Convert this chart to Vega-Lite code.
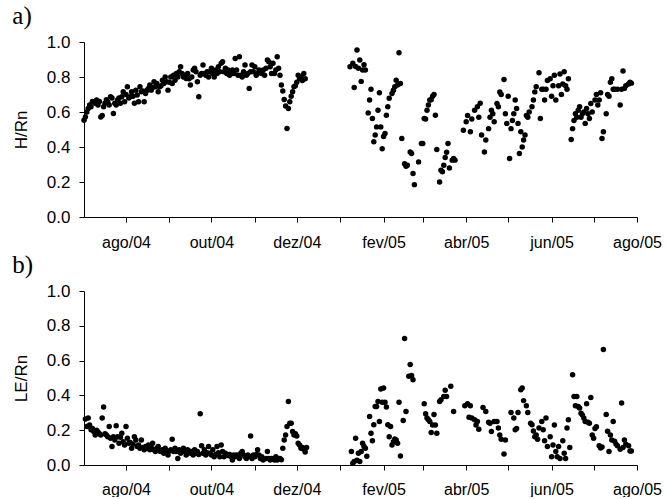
{
"$schema":"https://vega.github.io/schema/vega-lite/v6.json",
"background":"white",
"padding":{"left":12,"top":4,"right":0,"bottom":0},
"spacing":3,
"config":{
"view":{"stroke":null},
"axis":{"grid":false,"domainColor":"#000","tickColor":"#000","labelColor":"#000","titleColor":"#000","labelFont":"Liberation Sans","titleFont":"Liberation Sans","labelFontSize":17,"titleFontSize":17,"titleFontWeight":"normal","tickSize":5,"domainWidth":1,"tickWidth":1},
"axisX":{"labelFontSize":16},
"title":{"font":"Liberation Serif","fontSize":25,"fontWeight":"normal","anchor":"start","frame":"bounds","offset":0,"color":"#000"}
},
"datasets":{
"h":[
{"d":"2004-07-02","v":0.553},{"d":"2004-07-03","v":0.572},{"d":"2004-07-04","v":0.60},{"d":"2004-07-05","v":0.62},{"d":"2004-07-06","v":0.64},{"d":"2004-07-07","v":0.63},{"d":"2004-07-08","v":0.66},{"d":"2004-07-09","v":0.658},{"d":"2004-07-10","v":0.65},{"d":"2004-07-11","v":0.668},{"d":"2004-07-12","v":0.64},{"d":"2004-07-13","v":0.66},{"d":"2004-07-14","v":0.572},{"d":"2004-07-15","v":0.58},{"d":"2004-07-16","v":0.63},{"d":"2004-07-17","v":0.65},{"d":"2004-07-18","v":0.67},{"d":"2004-07-19","v":0.658},{"d":"2004-07-20","v":0.64},{"d":"2004-07-21","v":0.687},{"d":"2004-07-22","v":0.68},{"d":"2004-07-23","v":0.592},{"d":"2004-07-24","v":0.65},{"d":"2004-07-25","v":0.64},{"d":"2004-07-26","v":0.668},{"d":"2004-07-27","v":0.68},{"d":"2004-07-28","v":0.65},{"d":"2004-07-29","v":0.687},{"d":"2004-07-30","v":0.716},{"d":"2004-07-31","v":0.658},
{"d":"2004-08-01","v":0.70},{"d":"2004-08-02","v":0.744},{"d":"2004-08-03","v":0.68},{"d":"2004-08-04","v":0.687},{"d":"2004-08-05","v":0.716},{"d":"2004-08-06","v":0.69},{"d":"2004-08-07","v":0.65},{"d":"2004-08-08","v":0.725},{"d":"2004-08-09","v":0.697},{"d":"2004-08-10","v":0.658},{"d":"2004-08-11","v":0.744},{"d":"2004-08-12","v":0.716},{"d":"2004-08-13","v":0.72},{"d":"2004-08-14","v":0.658},{"d":"2004-08-15","v":0.706},{"d":"2004-08-16","v":0.725},{"d":"2004-08-17","v":0.735},{"d":"2004-08-18","v":0.754},{"d":"2004-08-19","v":0.725},{"d":"2004-08-20","v":0.74},{"d":"2004-08-21","v":0.773},{"d":"2004-08-22","v":0.744},{"d":"2004-08-23","v":0.763},{"d":"2004-08-24","v":0.716},{"d":"2004-08-25","v":0.744},{"d":"2004-08-26","v":0.75},{"d":"2004-08-27","v":0.782},{"d":"2004-08-28","v":0.763},{"d":"2004-08-29","v":0.80},{"d":"2004-08-30","v":0.773},{"d":"2004-08-31","v":0.725},
{"d":"2004-09-01","v":0.77},{"d":"2004-09-02","v":0.80},{"d":"2004-09-03","v":0.763},{"d":"2004-09-04","v":0.81},{"d":"2004-09-05","v":0.782},{"d":"2004-09-06","v":0.82},{"d":"2004-09-07","v":0.80},{"d":"2004-09-08","v":0.83},{"d":"2004-09-09","v":0.859},{"d":"2004-09-10","v":0.82},{"d":"2004-09-11","v":0.80},{"d":"2004-09-12","v":0.81},{"d":"2004-09-13","v":0.792},{"d":"2004-09-14","v":0.82},{"d":"2004-09-15","v":0.79},{"d":"2004-09-16","v":0.754},{"d":"2004-09-17","v":0.80},{"d":"2004-09-18","v":0.84},{"d":"2004-09-19","v":0.85},{"d":"2004-09-20","v":0.83},{"d":"2004-09-21","v":0.773},{"d":"2004-09-22","v":0.687},{"d":"2004-09-23","v":0.81},{"d":"2004-09-24","v":0.82},{"d":"2004-09-25","v":0.868},{"d":"2004-09-26","v":0.82},{"d":"2004-09-27","v":0.81},{"d":"2004-09-28","v":0.83},{"d":"2004-09-29","v":0.80},{"d":"2004-09-30","v":0.83},
{"d":"2004-10-01","v":0.85},{"d":"2004-10-02","v":0.82},{"d":"2004-10-03","v":0.80},{"d":"2004-10-04","v":0.84},{"d":"2004-10-05","v":0.82},{"d":"2004-10-06","v":0.859},{"d":"2004-10-07","v":0.83},{"d":"2004-10-08","v":0.878},{"d":"2004-10-09","v":0.887},{"d":"2004-10-10","v":0.83},{"d":"2004-10-11","v":0.85},{"d":"2004-10-12","v":0.82},{"d":"2004-10-13","v":0.84},{"d":"2004-10-14","v":0.81},{"d":"2004-10-15","v":0.82},{"d":"2004-10-16","v":0.84},{"d":"2004-10-17","v":0.82},{"d":"2004-10-18","v":0.906},{"d":"2004-10-19","v":0.84},{"d":"2004-10-20","v":0.81},{"d":"2004-10-21","v":0.916},{"d":"2004-10-22","v":0.81},{"d":"2004-10-23","v":0.80},{"d":"2004-10-24","v":0.83},{"d":"2004-10-25","v":0.868},{"d":"2004-10-26","v":0.81},{"d":"2004-10-27","v":0.82},{"d":"2004-10-28","v":0.735},{"d":"2004-10-29","v":0.83},{"d":"2004-10-30","v":0.868},{"d":"2004-10-31","v":0.83},
{"d":"2004-11-01","v":0.859},{"d":"2004-11-02","v":0.81},{"d":"2004-11-03","v":0.82},{"d":"2004-11-04","v":0.84},{"d":"2004-11-05","v":0.83},{"d":"2004-11-06","v":0.82},{"d":"2004-11-07","v":0.84},{"d":"2004-11-08","v":0.81},{"d":"2004-11-09","v":0.85},{"d":"2004-11-10","v":0.897},{"d":"2004-11-11","v":0.887},{"d":"2004-11-12","v":0.859},{"d":"2004-11-13","v":0.82},{"d":"2004-11-14","v":0.878},{"d":"2004-11-15","v":0.82},{"d":"2004-11-16","v":0.84},{"d":"2004-11-17","v":0.916},{"d":"2004-11-18","v":0.85},{"d":"2004-11-19","v":0.81},{"d":"2004-11-20","v":0.754},{"d":"2004-11-21","v":0.72},{"d":"2004-11-22","v":0.672},{"d":"2004-11-23","v":0.634},{"d":"2004-11-24","v":0.506},{"d":"2004-11-25","v":0.62},{"d":"2004-11-26","v":0.658},{"d":"2004-11-27","v":0.69},{"d":"2004-11-28","v":0.716},{"d":"2004-11-29","v":0.744},{"d":"2004-11-30","v":0.75},
{"d":"2004-12-01","v":0.77},{"d":"2004-12-02","v":0.81},{"d":"2004-12-03","v":0.79},{"d":"2004-12-04","v":0.80},{"d":"2004-12-05","v":0.78},{"d":"2004-12-06","v":0.82},{"d":"2004-12-07","v":0.79},
{"d":"2005-01-08","v":0.859},{"d":"2005-01-10","v":0.878},{"d":"2005-01-11","v":0.74},{"d":"2005-01-12","v":0.86},{"d":"2005-01-13","v":0.954},{"d":"2005-01-14","v":0.85},{"d":"2005-01-15","v":0.897},{"d":"2005-01-16","v":0.775},{"d":"2005-01-17","v":0.84},{"d":"2005-01-18","v":0.87},{"d":"2005-01-19","v":0.84},{"d":"2005-01-21","v":0.595},{"d":"2005-01-22","v":0.668},{"d":"2005-01-23","v":0.73},{"d":"2005-01-24","v":0.563},{"d":"2005-01-25","v":0.43},{"d":"2005-01-26","v":0.468},{"d":"2005-01-27","v":0.515},{"d":"2005-01-28","v":0.61},{"d":"2005-01-29","v":0.71},{"d":"2005-01-30","v":0.515},{"d":"2005-01-31","v":0.39},
{"d":"2005-02-01","v":0.46},{"d":"2005-02-02","v":0.477},{"d":"2005-02-03","v":0.582},{"d":"2005-02-04","v":0.63},{"d":"2005-02-05","v":0.678},{"d":"2005-02-07","v":0.706},{"d":"2005-02-08","v":0.725},{"d":"2005-02-09","v":0.744},{"d":"2005-02-10","v":0.782},{"d":"2005-02-11","v":0.754},{"d":"2005-02-12","v":0.939},{"d":"2005-02-13","v":0.763},{"d":"2005-02-14","v":0.449},{"d":"2005-02-16","v":0.305},{"d":"2005-02-17","v":0.29},{"d":"2005-02-18","v":0.296},{"d":"2005-02-20","v":0.372},{"d":"2005-02-21","v":0.363},{"d":"2005-02-22","v":0.248},{"d":"2005-02-23","v":0.185},{"d":"2005-02-26","v":0.315},{"d":"2005-02-28","v":0.42},
{"d":"2005-03-01","v":0.42},{"d":"2005-03-02","v":0.563},{"d":"2005-03-03","v":0.56},{"d":"2005-03-04","v":0.61},{"d":"2005-03-05","v":0.64},{"d":"2005-03-06","v":0.668},{"d":"2005-03-07","v":0.67},{"d":"2005-03-08","v":0.69},{"d":"2005-03-09","v":0.70},{"d":"2005-03-10","v":0.582},{"d":"2005-03-11","v":0.386},{"d":"2005-03-13","v":0.2},{"d":"2005-03-14","v":0.267},{"d":"2005-03-15","v":0.258},{"d":"2005-03-16","v":0.296},{"d":"2005-03-17","v":0.34},{"d":"2005-03-18","v":0.37},{"d":"2005-03-19","v":0.42},{"d":"2005-03-20","v":0.28},{"d":"2005-03-22","v":0.325},{"d":"2005-03-23","v":0.334},{"d":"2005-03-24","v":0.325},{"d":"2005-03-30","v":0.496},
{"d":"2005-04-01","v":0.544},{"d":"2005-04-02","v":0.58},{"d":"2005-04-04","v":0.487},{"d":"2005-04-05","v":0.56},{"d":"2005-04-07","v":0.61},{"d":"2005-04-09","v":0.63},{"d":"2005-04-10","v":0.57},{"d":"2005-04-11","v":0.65},{"d":"2005-04-12","v":0.468},{"d":"2005-04-14","v":0.372},{"d":"2005-04-15","v":0.44},{"d":"2005-04-17","v":0.505},{"d":"2005-04-18","v":0.57},{"d":"2005-04-19","v":0.61},{"d":"2005-04-20","v":0.59},{"d":"2005-04-21","v":0.544},{"d":"2005-04-23","v":0.648},{"d":"2005-04-24","v":0.63},{"d":"2005-04-25","v":0.715},{"d":"2005-04-26","v":0.70},{"d":"2005-04-28","v":0.786},{"d":"2005-04-29","v":0.59},{"d":"2005-04-30","v":0.535},
{"d":"2005-05-01","v":0.69},{"d":"2005-05-02","v":0.334},{"d":"2005-05-03","v":0.505},{"d":"2005-05-04","v":0.552},{"d":"2005-05-05","v":0.59},{"d":"2005-05-06","v":0.668},{"d":"2005-05-07","v":0.62},{"d":"2005-05-08","v":0.535},{"d":"2005-05-09","v":0.363},{"d":"2005-05-10","v":0.487},{"d":"2005-05-11","v":0.40},{"d":"2005-05-12","v":0.44},{"d":"2005-05-13","v":0.468},{"d":"2005-05-14","v":0.58},{"d":"2005-05-15","v":0.57},{"d":"2005-05-16","v":0.60},{"d":"2005-05-18","v":0.63},{"d":"2005-05-19","v":0.668},{"d":"2005-05-20","v":0.715},{"d":"2005-05-21","v":0.745},{"d":"2005-05-23","v":0.824},{"d":"2005-05-24","v":0.563},{"d":"2005-05-25","v":0.73},{"d":"2005-05-26","v":0.73},{"d":"2005-05-27","v":0.668},{"d":"2005-05-28","v":0.73},{"d":"2005-05-29","v":0.78},{"d":"2005-05-31","v":0.79},
{"d":"2005-06-01","v":0.69},{"d":"2005-06-02","v":0.75},{"d":"2005-06-03","v":0.81},{"d":"2005-06-04","v":0.668},{"d":"2005-06-06","v":0.75},{"d":"2005-06-07","v":0.817},{"d":"2005-06-08","v":0.70},{"d":"2005-06-09","v":0.76},{"d":"2005-06-10","v":0.83},{"d":"2005-06-11","v":0.75},{"d":"2005-06-12","v":0.73},{"d":"2005-06-13","v":0.79},{"d":"2005-06-15","v":0.443},{"d":"2005-06-16","v":0.505},{"d":"2005-06-17","v":0.552},{"d":"2005-06-18","v":0.59},{"d":"2005-06-19","v":0.57},{"d":"2005-06-20","v":0.61},{"d":"2005-06-21","v":0.63},{"d":"2005-06-22","v":0.57},{"d":"2005-06-23","v":0.59},{"d":"2005-06-24","v":0.60},{"d":"2005-06-25","v":0.535},{"d":"2005-06-26","v":0.62},{"d":"2005-06-27","v":0.59},{"d":"2005-06-28","v":0.563},{"d":"2005-06-29","v":0.648},{"d":"2005-06-30","v":0.60},
{"d":"2005-07-02","v":0.668},{"d":"2005-07-03","v":0.70},{"d":"2005-07-04","v":0.64},{"d":"2005-07-05","v":0.668},{"d":"2005-07-06","v":0.71},{"d":"2005-07-07","v":0.449},{"d":"2005-07-08","v":0.487},{"d":"2005-07-10","v":0.59},{"d":"2005-07-11","v":0.70},{"d":"2005-07-12","v":0.69},{"d":"2005-07-13","v":0.77},{"d":"2005-07-14","v":0.79},{"d":"2005-07-15","v":0.73},{"d":"2005-07-16","v":0.73},{"d":"2005-07-18","v":0.73},{"d":"2005-07-20","v":0.64},{"d":"2005-07-21","v":0.73},{"d":"2005-07-22","v":0.834},{"d":"2005-07-23","v":0.735},{"d":"2005-07-24","v":0.75},{"d":"2005-07-26","v":0.76},{"d":"2005-07-27","v":0.77},{"d":"2005-07-28","v":0.765}
],
"le":[
{"d":"2004-07-03","v":0.264},{"d":"2004-07-04","v":0.221},{"d":"2004-07-05","v":0.27},{"d":"2004-07-06","v":0.23},{"d":"2004-07-07","v":0.202},{"d":"2004-07-08","v":0.21},{"d":"2004-07-09","v":0.192},{"d":"2004-07-10","v":0.173},{"d":"2004-07-11","v":0.20},{"d":"2004-07-12","v":0.19},{"d":"2004-07-13","v":0.18},{"d":"2004-07-14","v":0.173},{"d":"2004-07-15","v":0.27},{"d":"2004-07-16","v":0.333},{"d":"2004-07-17","v":0.18},{"d":"2004-07-18","v":0.173},{"d":"2004-07-19","v":0.163},{"d":"2004-07-20","v":0.221},{"d":"2004-07-21","v":0.154},{"d":"2004-07-22","v":0.106},{"d":"2004-07-23","v":0.163},{"d":"2004-07-24","v":0.144},{"d":"2004-07-25","v":0.225},{"d":"2004-07-26","v":0.163},{"d":"2004-07-27","v":0.125},{"d":"2004-07-28","v":0.16},{"d":"2004-07-29","v":0.182},{"d":"2004-07-30","v":0.134},{"d":"2004-07-31","v":0.115},
{"d":"2004-08-01","v":0.221},{"d":"2004-08-02","v":0.154},{"d":"2004-08-03","v":0.125},{"d":"2004-08-04","v":0.13},{"d":"2004-08-05","v":0.096},{"d":"2004-08-06","v":0.12},{"d":"2004-08-07","v":0.163},{"d":"2004-08-08","v":0.144},{"d":"2004-08-09","v":0.106},{"d":"2004-08-10","v":0.115},{"d":"2004-08-11","v":0.096},{"d":"2004-08-12","v":0.144},{"d":"2004-08-13","v":0.10},{"d":"2004-08-14","v":0.087},{"d":"2004-08-15","v":0.106},{"d":"2004-08-16","v":0.096},{"d":"2004-08-17","v":0.115},{"d":"2004-08-18","v":0.087},{"d":"2004-08-19","v":0.10},{"d":"2004-08-20","v":0.125},{"d":"2004-08-21","v":0.087},{"d":"2004-08-22","v":0.077},{"d":"2004-08-23","v":0.096},{"d":"2004-08-24","v":0.106},{"d":"2004-08-25","v":0.08},{"d":"2004-08-26","v":0.077},{"d":"2004-08-27","v":0.087},{"d":"2004-08-28","v":0.067},{"d":"2004-08-29","v":0.096},{"d":"2004-08-30","v":0.077},{"d":"2004-08-31","v":0.058},
{"d":"2004-09-01","v":0.08},{"d":"2004-09-02","v":0.087},{"d":"2004-09-03","v":0.148},{"d":"2004-09-04","v":0.077},{"d":"2004-09-05","v":0.096},{"d":"2004-09-06","v":0.077},{"d":"2004-09-07","v":0.038},{"d":"2004-09-08","v":0.087},{"d":"2004-09-09","v":0.067},{"d":"2004-09-10","v":0.08},{"d":"2004-09-11","v":0.096},{"d":"2004-09-12","v":0.077},{"d":"2004-09-13","v":0.058},{"d":"2004-09-14","v":0.087},{"d":"2004-09-15","v":0.08},{"d":"2004-09-16","v":0.067},{"d":"2004-09-17","v":0.077},{"d":"2004-09-18","v":0.058},{"d":"2004-09-19","v":0.087},{"d":"2004-09-20","v":0.067},{"d":"2004-09-21","v":0.077},{"d":"2004-09-22","v":0.06},{"d":"2004-09-23","v":0.294},{"d":"2004-09-24","v":0.11},{"d":"2004-09-25","v":0.067},{"d":"2004-09-26","v":0.087},{"d":"2004-09-27","v":0.058},{"d":"2004-09-28","v":0.07},{"d":"2004-09-29","v":0.106},{"d":"2004-09-30","v":0.067},
{"d":"2004-10-01","v":0.058},{"d":"2004-10-02","v":0.087},{"d":"2004-10-03","v":0.048},{"d":"2004-10-04","v":0.06},{"d":"2004-10-05","v":0.106},{"d":"2004-10-06","v":0.07},{"d":"2004-10-07","v":0.048},{"d":"2004-10-08","v":0.115},{"d":"2004-10-09","v":0.077},{"d":"2004-10-10","v":0.048},{"d":"2004-10-11","v":0.067},{"d":"2004-10-12","v":0.058},{"d":"2004-10-13","v":0.055},{"d":"2004-10-14","v":0.06},{"d":"2004-10-15","v":0.048},{"d":"2004-10-16","v":0.029},{"d":"2004-10-17","v":0.058},{"d":"2004-10-18","v":0.048},{"d":"2004-10-19","v":0.058},{"d":"2004-10-20","v":0.05},{"d":"2004-10-21","v":0.038},{"d":"2004-10-22","v":0.067},{"d":"2004-10-23","v":0.077},{"d":"2004-10-24","v":0.058},{"d":"2004-10-25","v":0.048},{"d":"2004-10-26","v":0.038},{"d":"2004-10-27","v":0.058},{"d":"2004-10-28","v":0.05},{"d":"2004-10-29","v":0.167},{"d":"2004-10-30","v":0.038},{"d":"2004-10-31","v":0.058},
{"d":"2004-11-01","v":0.048},{"d":"2004-11-02","v":0.06},{"d":"2004-11-03","v":0.087},{"d":"2004-11-04","v":0.058},{"d":"2004-11-05","v":0.038},{"d":"2004-11-06","v":0.048},{"d":"2004-11-07","v":0.029},{"d":"2004-11-09","v":0.038},{"d":"2004-11-10","v":0.077},{"d":"2004-11-11","v":0.038},{"d":"2004-11-12","v":0.029},{"d":"2004-11-13","v":0.038},{"d":"2004-11-15","v":0.029},{"d":"2004-11-16","v":0.048},{"d":"2004-11-17","v":0.029},{"d":"2004-11-18","v":0.038},{"d":"2004-11-19","v":0.038},{"d":"2004-11-20","v":0.03},{"d":"2004-11-21","v":0.096},{"d":"2004-11-22","v":0.144},{"d":"2004-11-23","v":0.173},{"d":"2004-11-24","v":0.221},{"d":"2004-11-25","v":0.365},{"d":"2004-11-26","v":0.24},{"d":"2004-11-27","v":0.24},{"d":"2004-11-28","v":0.192},{"d":"2004-11-29","v":0.173},{"d":"2004-11-30","v":0.18},
{"d":"2004-12-01","v":0.167},{"d":"2004-12-02","v":0.125},{"d":"2004-12-03","v":0.115},{"d":"2004-12-04","v":0.096},{"d":"2004-12-05","v":0.10},{"d":"2004-12-06","v":0.09},{"d":"2004-12-07","v":0.075},{"d":"2004-12-08","v":0.10},
{"d":"2005-01-09","v":0.077},{"d":"2005-01-10","v":0.01},{"d":"2005-01-11","v":0.02},{"d":"2005-01-12","v":0.154},{"d":"2005-01-13","v":0.027},{"d":"2005-01-14","v":0.067},{"d":"2005-01-15","v":0.02},{"d":"2005-01-16","v":0.077},{"d":"2005-01-17","v":0.125},{"d":"2005-01-18","v":0.106},{"d":"2005-01-19","v":0.096},{"d":"2005-01-20","v":0.05},{"d":"2005-01-22","v":0.279},{"d":"2005-01-23","v":0.183},{"d":"2005-01-24","v":0.14},{"d":"2005-01-25","v":0.231},{"d":"2005-01-26","v":0.336},{"d":"2005-01-27","v":0.336},{"d":"2005-01-28","v":0.365},{"d":"2005-01-29","v":0.25},{"d":"2005-01-30","v":0.437},{"d":"2005-01-31","v":0.36},
{"d":"2005-02-01","v":0.442},{"d":"2005-02-02","v":0.36},{"d":"2005-02-03","v":0.333},{"d":"2005-02-04","v":0.231},{"d":"2005-02-05","v":0.163},{"d":"2005-02-06","v":0.221},{"d":"2005-02-07","v":0.115},{"d":"2005-02-08","v":0.134},{"d":"2005-02-09","v":0.15},{"d":"2005-02-10","v":0.144},{"d":"2005-02-11","v":0.125},{"d":"2005-02-12","v":0.36},{"d":"2005-02-13","v":0.052},{"d":"2005-02-15","v":0.256},{"d":"2005-02-16","v":0.727},{"d":"2005-02-17","v":0.308},{"d":"2005-02-19","v":0.51},{"d":"2005-02-20","v":0.577},{"d":"2005-02-21","v":0.514},{"d":"2005-02-22","v":0.49},
{"d":"2005-03-02","v":0.352},{"d":"2005-03-03","v":0.294},{"d":"2005-03-04","v":0.27},{"d":"2005-03-05","v":0.26},{"d":"2005-03-06","v":0.25},{"d":"2005-03-07","v":0.187},{"d":"2005-03-08","v":0.23},{"d":"2005-03-09","v":0.29},{"d":"2005-03-10","v":0.23},{"d":"2005-03-11","v":0.183},{"d":"2005-03-13","v":0.365},{"d":"2005-03-14","v":0.375},{"d":"2005-03-16","v":0.394},{"d":"2005-03-17","v":0.429},{"d":"2005-03-18","v":0.394},{"d":"2005-03-21","v":0.452},{"d":"2005-03-23","v":0.308},{"d":"2005-03-31","v":0.34},
{"d":"2005-04-02","v":0.352},{"d":"2005-04-03","v":0.275},{"d":"2005-04-04","v":0.34},{"d":"2005-04-05","v":0.27},{"d":"2005-04-07","v":0.26},{"d":"2005-04-08","v":0.23},{"d":"2005-04-09","v":0.25},{"d":"2005-04-10","v":0.206},{"d":"2005-04-13","v":0.33},{"d":"2005-04-15","v":0.308},{"d":"2005-04-17","v":0.246},{"d":"2005-04-18","v":0.24},{"d":"2005-04-19","v":0.192},{"d":"2005-04-21","v":0.25},{"d":"2005-04-23","v":0.25},{"d":"2005-04-24","v":0.212},{"d":"2005-04-25","v":0.173},{"d":"2005-04-26","v":0.148},{"d":"2005-04-28","v":0.063},{"d":"2005-04-29","v":0.144},
{"d":"2005-05-03","v":0.302},{"d":"2005-05-05","v":0.27},{"d":"2005-05-06","v":0.202},{"d":"2005-05-07","v":0.21},{"d":"2005-05-08","v":0.302},{"d":"2005-05-10","v":0.433},{"d":"2005-05-11","v":0.442},{"d":"2005-05-12","v":0.37},{"d":"2005-05-14","v":0.34},{"d":"2005-05-15","v":0.302},{"d":"2005-05-17","v":0.24},{"d":"2005-05-18","v":0.231},{"d":"2005-05-19","v":0.196},{"d":"2005-05-20","v":0.163},{"d":"2005-05-21","v":0.173},{"d":"2005-05-22","v":0.148},{"d":"2005-05-23","v":0.212},{"d":"2005-05-25","v":0.25},{"d":"2005-05-26","v":0.202},{"d":"2005-05-27","v":0.14},{"d":"2005-05-28","v":0.27},{"d":"2005-05-29","v":0.106},{"d":"2005-05-31","v":0.163},
{"d":"2005-06-01","v":0.048},{"d":"2005-06-02","v":0.115},{"d":"2005-06-03","v":0.23},{"d":"2005-06-04","v":0.077},{"d":"2005-06-05","v":0.048},{"d":"2005-06-06","v":0.106},{"d":"2005-06-07","v":0.038},{"d":"2005-06-09","v":0.14},{"d":"2005-06-10","v":0.067},{"d":"2005-06-11","v":0.038},{"d":"2005-06-12","v":0.212},{"d":"2005-06-13","v":0.26},{"d":"2005-06-14","v":0.1},{"d":"2005-06-16","v":0.519},{"d":"2005-06-17","v":0.394},{"d":"2005-06-18","v":0.34},{"d":"2005-06-19","v":0.394},{"d":"2005-06-20","v":0.336},{"d":"2005-06-21","v":0.327},{"d":"2005-06-22","v":0.298},{"d":"2005-06-23","v":0.288},{"d":"2005-06-24","v":0.27},{"d":"2005-06-25","v":0.25},{"d":"2005-06-26","v":0.352},{"d":"2005-06-27","v":0.246},{"d":"2005-06-28","v":0.24},{"d":"2005-06-29","v":0.388},{"d":"2005-06-30","v":0.173},
{"d":"2005-07-01","v":0.154},{"d":"2005-07-02","v":0.21},{"d":"2005-07-03","v":0.22},{"d":"2005-07-05","v":0.11},{"d":"2005-07-06","v":0.097},{"d":"2005-07-07","v":0.104},{"d":"2005-07-08","v":0.664},{"d":"2005-07-10","v":0.29},{"d":"2005-07-11","v":0.194},{"d":"2005-07-12","v":0.077},{"d":"2005-07-13","v":0.173},{"d":"2005-07-14","v":0.144},{"d":"2005-07-15","v":0.25},{"d":"2005-07-16","v":0.137},{"d":"2005-07-17","v":0.12},{"d":"2005-07-18","v":0.11},{"d":"2005-07-20","v":0.09},{"d":"2005-07-21","v":0.356},{"d":"2005-07-22","v":0.1},{"d":"2005-07-23","v":0.144},{"d":"2005-07-24","v":0.12},{"d":"2005-07-26","v":0.11},{"d":"2005-07-27","v":0.08},{"d":"2005-07-28","v":0.08}
]
},
"vconcat":[
{
"title":{"text":"a)"},
"width":553,"height":175,
"data":{"name":"h"},
"mark":{"type":"circle","size":30,"color":"#000","opacity":1},
"encoding":{
"x":{"field":"d","type":"temporal","title":null,
"scale":{"type":"utc","domain":[{"year":2004,"month":7,"date":2,"utc":true},{"year":2005,"month":8,"date":1,"utc":true}]},
"axis":{"values":[{"year":2004,"month":8,"date":1,"utc":true},{"year":2004,"month":9,"date":1,"utc":true},{"year":2004,"month":10,"date":1,"utc":true},{"year":2004,"month":11,"date":1,"utc":true},{"year":2004,"month":12,"date":1,"utc":true},{"year":2005,"month":1,"date":1,"utc":true},{"year":2005,"month":2,"date":1,"utc":true},{"year":2005,"month":3,"date":1,"utc":true},{"year":2005,"month":4,"date":1,"utc":true},{"year":2005,"month":5,"date":1,"utc":true},{"year":2005,"month":6,"date":1,"utc":true},{"year":2005,"month":7,"date":1,"utc":true},{"year":2005,"month":8,"date":1,"utc":true}],
"labelExpr":"utcmonth(datum.value) % 2 == 1 ? ['jan','fev','mar','abr','mai','jun','jul','ago','set','out','nov','dez'][utcmonth(datum.value)] + '/' + utcFormat(datum.value, '%y') : ''",
"labelOverlap":false,"labelFlush":false,"labelPadding":12}},
"y":{"field":"v","type":"quantitative","title":"H/Rn",
"scale":{"domain":[0,1],"nice":false},
"axis":{"values":[0,0.2,0.4,0.6,0.8,1.0],"format":".1f","labelPadding":9,"titlePadding":16}}
}
},
{
"title":{"text":"b)"},
"width":553,"height":174,
"data":{"name":"le"},
"mark":{"type":"circle","size":30,"color":"#000","opacity":1},
"encoding":{
"x":{"field":"d","type":"temporal","title":null,
"scale":{"type":"utc","domain":[{"year":2004,"month":7,"date":2,"utc":true},{"year":2005,"month":8,"date":1,"utc":true}]},
"axis":{"values":[{"year":2004,"month":8,"date":1,"utc":true},{"year":2004,"month":9,"date":1,"utc":true},{"year":2004,"month":10,"date":1,"utc":true},{"year":2004,"month":11,"date":1,"utc":true},{"year":2004,"month":12,"date":1,"utc":true},{"year":2005,"month":1,"date":1,"utc":true},{"year":2005,"month":2,"date":1,"utc":true},{"year":2005,"month":3,"date":1,"utc":true},{"year":2005,"month":4,"date":1,"utc":true},{"year":2005,"month":5,"date":1,"utc":true},{"year":2005,"month":6,"date":1,"utc":true},{"year":2005,"month":7,"date":1,"utc":true},{"year":2005,"month":8,"date":1,"utc":true}],
"labelExpr":"utcmonth(datum.value) % 2 == 1 ? ['jan','fev','mar','abr','mai','jun','jul','ago','set','out','nov','dez'][utcmonth(datum.value)] + '/' + utcFormat(datum.value, '%y') : ''",
"labelOverlap":false,"labelFlush":false,"labelPadding":11}},
"y":{"field":"v","type":"quantitative","title":"LE/Rn",
"scale":{"domain":[0,1],"nice":false},
"axis":{"values":[0,0.2,0.4,0.6,0.8,1.0],"format":".1f","labelPadding":9,"titlePadding":16}}
}
}
]
}
